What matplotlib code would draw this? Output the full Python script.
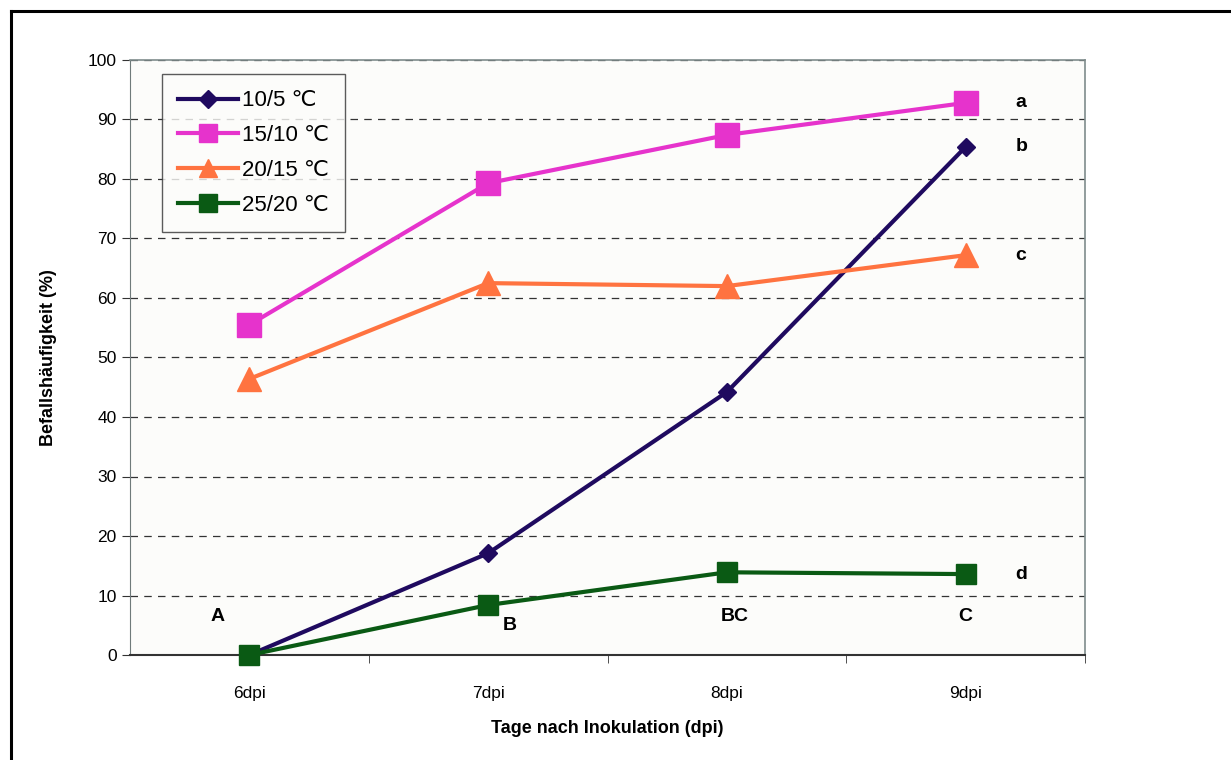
import matplotlib
matplotlib.use("Agg")
import matplotlib.pyplot as plt
from matplotlib.lines import Line2D

plt.rcParams["font.family"] = ["Liberation Sans", "DejaVu Sans"]

# Daten
categories = ["6dpi", "7dpi", "8dpi", "9dpi"]
series_names = ["10/5 ℃", "15/10 ℃", "20/15 ℃", "25/20 ℃"]
t_10_5 = [0.0, 17.1, 44.2, 85.4]
t_15_10 = [55.5, 79.3, 87.4, 92.8]
t_20_15 = [46.4, 62.5, 62.0, 67.2]
t_25_20 = [0.0, 8.4, 13.9, 13.6]
series_letters = ["b", "a", "c", "d"]
day_letters = ["A", "B", "BC", "C"]

colors = ["#1F0A5F", "#E633CC", "#FF7340", "#0A5A14"]
markers = ["D", "s", "^", "s"]
msizes = [9, 17, 17, 15]

fig = plt.figure(figsize=(12.31, 7.60), dpi=100)
ax = fig.add_axes([130 / 1231, 1 - 655 / 760, 955 / 1231, 595 / 760])
ax.set_facecolor("#FCFCFA")

x = list(range(len(categories)))
all_series = [t_10_5, t_15_10, t_20_15, t_25_20]
for vals, name, c, m, ms in zip(all_series, series_names, colors, markers, msizes):
    ax.plot(x, vals, color=c, lw=3, marker=m, markersize=ms, label=name,
            markeredgecolor=c, clip_on=False, zorder=3)

# Buchstaben rechts
for vals, let in zip(all_series, series_letters):
    ax.annotate(let, (x[-1], vals[-1]), xytext=(40, 0), textcoords="offset points",
                ha="center", va="center", fontsize=14, fontweight="bold")

# Buchstaben unten
letter_pos = [(-0.135, 6.4), (1.09, 5.0), (2.035, 6.4), (3.0, 6.4)]
for (lx, ly), let in zip(letter_pos, day_letters):
    ax.text(lx, ly, let, ha="center", va="center", fontsize=14, fontweight="bold")

ax.set_xlim(-0.5, 3.5)
ax.set_ylim(0, 100)
ax.set_yticks(range(0, 101, 10))
ax.set_xticks(x)
ax.set_xticklabels(categories)
ax.set_xticks([0.5, 1.5, 2.5, 3.5], minor=True)
ax.tick_params(axis="x", which="major", length=0, pad=22, labelsize=12.5)
ax.tick_params(axis="x", which="minor", length=6, color="#333333")
ax.tick_params(axis="y", length=6, labelsize=12.5, color="#333333")

ax.yaxis.grid(True, linestyle=(0, (6, 5)), color="#333333", lw=0.9)
ax.set_axisbelow(True)
for s in ["top", "right"]:
    ax.spines[s].set_color("#7F8C8C")
    ax.spines[s].set_linewidth(1.2)
ax.spines["left"].set_color("#6F7A7A")
ax.spines["bottom"].set_color("#333333")
ax.spines["bottom"].set_linewidth(1.5)

ax.set_ylabel("Befallshäufigkeit (%)", fontsize=13, fontweight="bold", labelpad=22)
ax.set_xlabel("Tage nach Inokulation (dpi)", fontsize=13, fontweight="bold", labelpad=14)

handles = [Line2D([], [], color=c, lw=3, marker=m, markersize=min(ms, 13), markeredgecolor=c)
           for c, m, ms in zip(colors, markers, msizes)]
leg = ax.legend(handles, series_names, loc="upper left", bbox_to_anchor=(0.034, 0.976),
                fontsize=16, frameon=True, fancybox=False, edgecolor="#333333",
                handlelength=2.7, handletextpad=0.15, labelspacing=0.62, borderpad=0.72,
                borderaxespad=0)
leg.get_frame().set_linewidth(1.0)
leg.get_frame().set_facecolor("#FCFCFA")

# Rahmen der Abbildung (oben und links)
fig.add_artist(Line2D([11 / 1231, 1.0], [1 - 11 / 760, 1 - 11 / 760], color="black", lw=2.2,
                      transform=fig.transFigure))
fig.add_artist(Line2D([11 / 1231, 11 / 1231], [0, 1 - 11 / 760], color="black", lw=2.2,
                      transform=fig.transFigure))

fig.savefig("out.png", dpi=100)
